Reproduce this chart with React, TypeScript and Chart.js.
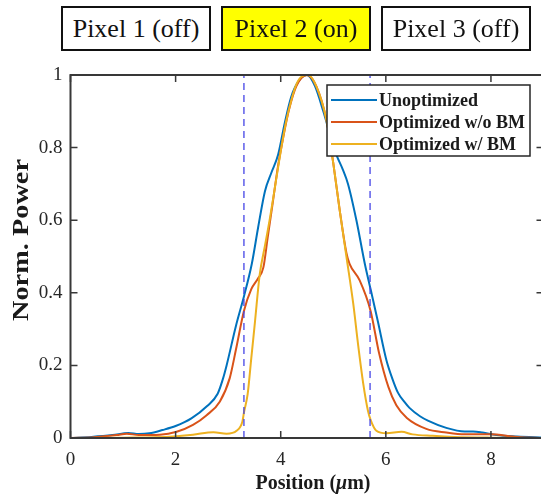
import { useEffect, useRef } from 'react';
import { Chart, registerables } from 'chart.js';

Chart.register(...registerables);

// ---- data ----
const xTicks = [0, 2, 4, 6, 8];
const yTicks = [0, 0.2, 0.4, 0.6, 0.8, 1];
const seriesNames = ['Unoptimized', 'Optimized w/o BM', 'Optimized w/ BM'];
const pixelLabels = ['Pixel 1 (off)', 'Pixel 2 (on)', 'Pixel 3 (off)'];
const pixelOn = [false, true, false];
const dividerX = [3.3, 5.7];
const xTitle = ['Position (', 'μ', 'm)'];
const yTitle = 'Norm. Power';

const blueX = [0, 0.4, 0.8, 1.1, 1.3, 1.5, 1.75, 2.0, 2.3, 2.6, 2.8, 2.89, 2.97, 3.15, 3.3, 3.45, 3.57, 3.7, 3.82, 3.95, 4.08, 4.2, 4.35, 4.5, 4.65, 4.81, 4.95, 5.06, 5.18, 5.28, 5.44, 5.6, 5.71, 5.85, 6.01, 6.12, 6.23, 6.35, 6.45, 6.65, 6.8, 7.15, 7.5, 7.66, 7.84, 8.1, 8.5, 9];
const blueY = [0, 0.003, 0.008, 0.014, 0.011, 0.013, 0.022, 0.033, 0.054, 0.088, 0.122, 0.158, 0.2, 0.31, 0.39, 0.48, 0.58, 0.68, 0.73, 0.78, 0.87, 0.94, 0.985, 1.0, 0.97, 0.9, 0.83, 0.78, 0.74, 0.7, 0.6, 0.48, 0.41, 0.32, 0.215, 0.165, 0.125, 0.1, 0.083, 0.06, 0.048, 0.028, 0.018, 0.018, 0.015, 0.008, 0.004, 0.001];

const redX = [0, 0.45, 0.88, 1.07, 1.3, 1.7, 2.02, 2.33, 2.59, 2.84, 3.03, 3.15, 3.3, 3.44, 3.57, 3.67, 3.75, 3.85, 3.95, 4.05, 4.15, 4.3, 4.5, 4.68, 4.87, 5.0, 5.12, 5.25, 5.31, 5.5, 5.71, 5.87, 6.05, 6.2, 6.4, 6.77, 7.15, 7.5, 7.98, 8.5, 9];
const redY = [0, 0.002, 0.008, 0.012, 0.008, 0.009, 0.017, 0.036, 0.063, 0.1, 0.165, 0.245, 0.35, 0.41, 0.44, 0.47, 0.55, 0.65, 0.75, 0.83, 0.9, 0.97, 1.0, 0.968, 0.876, 0.757, 0.63, 0.51, 0.48, 0.435, 0.35, 0.235, 0.14, 0.09, 0.055, 0.025, 0.015, 0.01, 0.01, 0.003, 0];

const yellowX = [0, 1.0, 1.6, 2.02, 2.33, 2.72, 2.97, 3.16, 3.27, 3.3, 3.37, 3.44, 3.51, 3.6, 3.7, 3.8, 3.9, 4.0, 4.1, 4.2, 4.3, 4.4, 4.52, 4.68, 4.87, 5.0, 5.12, 5.25, 5.38, 5.47, 5.57, 5.66, 5.71, 5.82, 6.01, 6.3, 6.51, 6.89, 7.3, 8, 9];
const yellowY = [0, 0.001, 0.002, 0.005, 0.009, 0.016, 0.012, 0.02, 0.045, 0.07, 0.12, 0.22, 0.32, 0.45, 0.53, 0.61, 0.7, 0.79, 0.87, 0.93, 0.975, 0.996, 1.0, 0.968, 0.876, 0.757, 0.63, 0.5, 0.37, 0.26, 0.15, 0.075, 0.05, 0.02, 0.013, 0.017, 0.01, 0.006, 0.003, 0.001, 0];

const COLORS = ['#0072BD', '#D95319', '#EDB120'];
const DIV_COLOR = '#4444e6';
const AXIS_COLOR = '#383838';
const SERIF = '"Liberation Serif", "Times New Roman", serif';

const pts = (xs: number[], ys: number[]) => xs.map((x, i) => ({ x, y: ys[i] }));

const decor = {
  id: 'decor',
  afterDatasetsDraw(chart: any) {
    const { ctx, chartArea: a, scales } = chart;
    const xs = scales.x;
    const ys = scales.y;
    ctx.save();
    // frame
    ctx.strokeStyle = AXIS_COLOR;
    ctx.lineWidth = 2;
    ctx.strokeRect(a.left, a.top, a.right - a.left, a.bottom - a.top);
    // inward ticks
    const tl = 7;
    ctx.lineWidth = 1.5;
    ctx.beginPath();
    xTicks.forEach((v) => {
      const px = xs.getPixelForValue(v);
      ctx.moveTo(px, a.bottom);
      ctx.lineTo(px, a.bottom - tl);
      ctx.moveTo(px, a.top);
      ctx.lineTo(px, a.top + tl);
    });
    yTicks.forEach((v) => {
      const py = ys.getPixelForValue(v);
      ctx.moveTo(a.left, py);
      ctx.lineTo(a.left + tl, py);
      ctx.moveTo(a.right, py);
      ctx.lineTo(a.right - tl, py);
    });
    ctx.stroke();

    // legend
    const lx = 327, ly = 85, lw = 203, lh = 71;
    ctx.fillStyle = '#ffffff';
    ctx.fillRect(lx, ly, lw, lh);
    ctx.strokeStyle = '#262626';
    ctx.lineWidth = 1.5;
    ctx.strokeRect(lx, ly, lw, lh);
    ctx.font = `bold 18px ${SERIF}`;
    ctx.textBaseline = 'middle';
    ctx.textAlign = 'left';
    seriesNames.forEach((name, i) => {
      const cy = 100 + i * 22;
      ctx.strokeStyle = COLORS[i];
      ctx.lineWidth = 2;
      ctx.beginPath();
      ctx.moveTo(331, cy);
      ctx.lineTo(377, cy);
      ctx.stroke();
      ctx.fillStyle = '#1a1a1a';
      ctx.fillText(name, 379, cy + 1);
    });
    ctx.restore();
  },
  afterDraw(chart: any) {
    const { ctx } = chart;
    ctx.save();
    ctx.fillStyle = '#1a1a1a';
    ctx.textBaseline = 'alphabetic';
    ctx.textAlign = 'left';
    // x title with italic mu
    const fonts = [`bold 20px ${SERIF}`, `italic bold 20px ${SERIF}`, `bold 20px ${SERIF}`];
    let total = 0;
    const widths = xTitle.map((t, i) => {
      ctx.font = fonts[i];
      const w = ctx.measureText(t).width;
      total += w;
      return w;
    });
    let x = 313 - total / 2;
    xTitle.forEach((t, i) => {
      ctx.font = fonts[i];
      ctx.fillText(t, x, 489);
      x += widths[i];
    });
    // y title (stretched along its length to match reference extent)
    ctx.translate(22, 240);
    ctx.rotate(-Math.PI / 2);
    ctx.font = `bold 23px ${SERIF}`;
    const tw = ctx.measureText(yTitle).width;
    ctx.scale(162 / tw, 1);
    ctx.textAlign = 'center';
    ctx.textBaseline = 'middle';
    ctx.fillText(yTitle, 0, 0);
    ctx.restore();
  },
};

export default function App() {
  const ref = useRef<HTMLCanvasElement | null>(null);
  useEffect(() => {
    if (!ref.current) return;
    const tickFont = { family: SERIF, size: 19 };
    const chart = new Chart(ref.current, {
      type: 'line',
      data: {
        datasets: [
          ...dividerX.map((d) => ({
            label: 'divider',
            data: [{ x: d, y: 0 }, { x: d, y: 1 }],
            borderColor: DIV_COLOR,
            borderWidth: 1.3,
            borderDash: [7, 5],
            pointRadius: 0,
            order: 0,
          })),
          ...[
            [blueX, blueY],
            [redX, redY],
            [yellowX, yellowY],
          ].map(([xs, ys], i) => ({
            label: seriesNames[i],
            data: pts(xs, ys),
            borderColor: COLORS[i],
            borderWidth: 2,
            pointRadius: 0,
            cubicInterpolationMode: 'monotone' as const,
            order: 3 - i,
          })),
        ],
      },
      options: {
        responsive: false,
        animation: false,
        devicePixelRatio: 1,
        layout: { padding: { top: 75, right: 1.5, left: 0, bottom: 0 } },
        plugins: { legend: { display: false }, tooltip: { enabled: false } },
        scales: {
          x: {
            type: 'linear',
            min: 0,
            max: 9,
            afterBuildTicks: (s: any) => {
              s.ticks = xTicks.map((v) => ({ value: v }));
            },
            afterFit: (s: any) => {
              s.height = 64;
            },
            grid: { display: false, drawTicks: false },
            border: { display: false },
            ticks: {
              font: tickFont,
              color: '#262626',
              padding: 11,
              maxRotation: 0,
              autoSkip: false,
              callback: (v: any) => String(v),
            },
          },
          y: {
            type: 'linear',
            min: 0,
            max: 1,
            afterBuildTicks: (s: any) => {
              s.ticks = yTicks.map((v) => ({ value: v }));
            },
            afterFit: (s: any) => {
              s.width = 70.5;
            },
            grid: { display: false, drawTicks: false },
            border: { display: false },
            ticks: {
              font: tickFont,
              color: '#262626',
              padding: 8,
              autoSkip: false,
              callback: (v: any) => String(v),
            },
          },
        },
      },
      plugins: [decor],
    });
    return () => chart.destroy();
  }, []);

  const boxLeft = [61, 221, 381];
  return (
    <div
      style={{
        position: 'fixed',
        left: 0,
        top: 0,
        width: 541,
        height: 502,
        overflow: 'hidden',
        background: '#ffffff',
      }}
    >
      <canvas ref={ref} width={545} height={502} style={{ position: 'absolute', left: 0, top: 0 }} />
      {pixelLabels.map((t, i) => (
        <div
          key={t}
          style={{
            position: 'absolute',
            left: boxLeft[i],
            top: 6,
            width: 150,
            height: 45,
            boxSizing: 'border-box',
            border: '2px solid #111',
            background: pixelOn[i] ? '#ffff00' : '#ffffff',
            fontFamily: SERIF,
            fontSize: 26,
            color: '#111',
            display: 'flex',
            alignItems: 'center',
            justifyContent: 'center',
            whiteSpace: 'nowrap',
          }}
        >
          {t}
        </div>
      ))}
    </div>
  );
}
